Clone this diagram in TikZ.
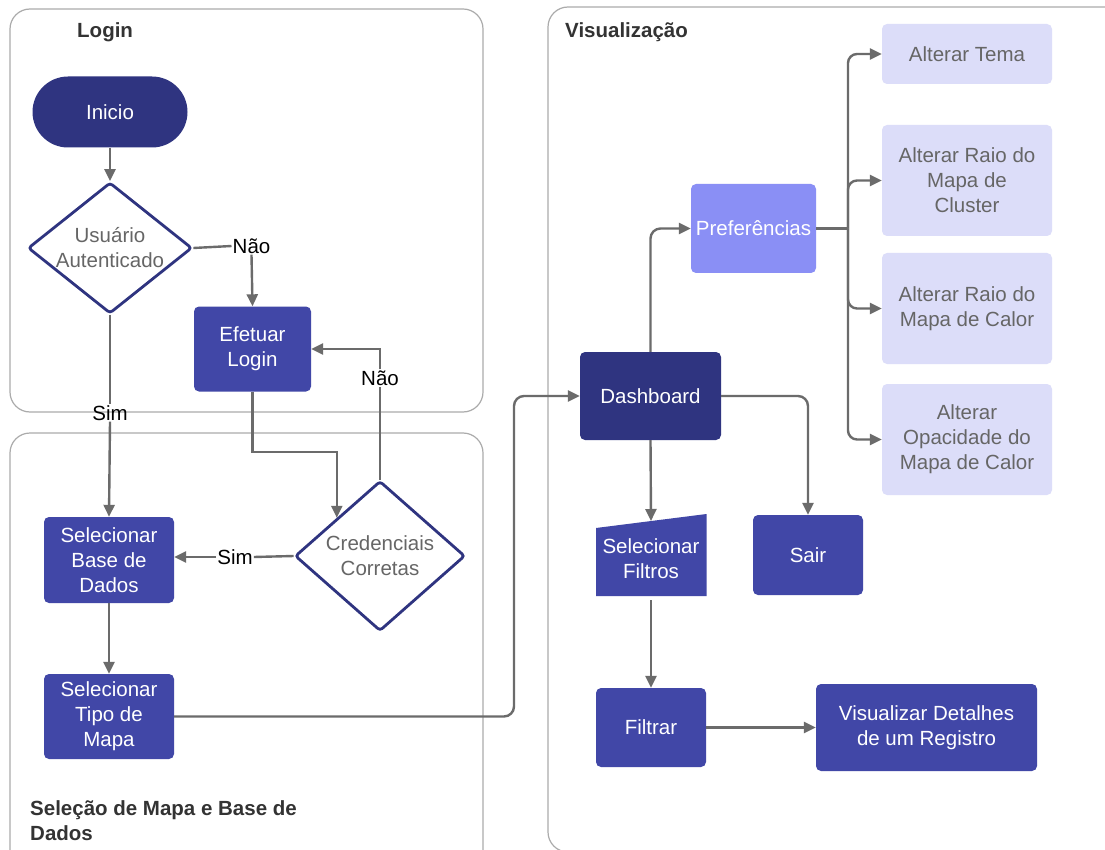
\documentclass[tikz,border=0pt]{standalone}
\usepackage{fontspec}
\setmainfont{Liberation Sans}
\usetikzlibrary{shapes.geometric,arrows.meta,calc}
\definecolor{navy}{HTML}{2F3480}
\definecolor{mblue}{HTML}{4147A7}
\definecolor{peri}{HTML}{8A8FF5}
\definecolor{lav}{HTML}{DCDDF9}
\definecolor{txtgray}{HTML}{666666}
\definecolor{linegray}{HTML}{6B6B6B}
\definecolor{framegray}{HTML}{ABABAB}
\definecolor{ttl}{HTML}{333333}
\newcommand{\txtfont}{\fontsize{20.5}{25}\selectfont}
\begin{document}
\begin{tikzpicture}[x=1pt,y=-1pt,
  frame/.style={draw=framegray, line width=1.2, rounded corners=20},
  ttlstyle/.style={font=\txtfont\bfseries, text=ttl, inner sep=0},
  box/.style={rectangle, rounded corners=5, fill=mblue, text=white, align=center, inner sep=0, font=\txtfont},
  darkbox/.style={box, fill=navy},
  prefbox/.style={box, fill=peri},
  lightbox/.style={box, fill=lav, text=txtgray, minimum width=170},
  dia/.style={diamond, draw=navy, line width=2.8, fill=white, text=txtgray, align=center, inner sep=0, font=\txtfont, rounded corners=3},
  lbl/.style={font=\txtfont, text=black, inner sep=1},
  conn/.style={draw=linegray, line width=2.4},
  arr/.style={conn, -{Triangle[length=12pt,width=11pt]}},
]
\clip (0,0) rectangle (1105,850);
\fill[white] (0,0) rectangle (1105,850);

% containers
\draw[frame] (10,9) rectangle (483,412);
\draw[frame] (10,433) rectangle (483,870);
\draw[frame] (548,7) rectangle (1125,852);

\node[ttlstyle, anchor=base west] (tlogin) at (77,38) {Login};
\node[ttlstyle, anchor=base west] (tvis) at (565,38) {Visualização};
\node[ttlstyle, anchor=north west, align=left] (tsel) at (30,800) {Seleção de Mapa e Base de\\Dados};

% login nodes
\node[darkbox, rounded corners=35.5, minimum width=155, minimum height=71] (inicio) at (110,112) {Inicio};
\node[dia, aspect=1.25, minimum width=164, minimum height=131] (ua) at (110,248) {Usuário\\Autenticado};
\node[box, minimum width=117, minimum height=85] (ef) at (252.5,349) {Efetuar\\Login};
\node[dia, aspect=1.13, minimum width=170, minimum height=150] (cc) at (380,556) {Credenciais\\Corretas};
\node[box, minimum width=130, minimum height=86] (base) at (109,560) {Selecionar\\Base de\\Dados};
\node[box, minimum width=130, minimum height=85] (tipo) at (109,716.5) {Selecionar\\Tipo de\\Mapa};

% labels
\node[lbl] (nao1) at (251.5,246) {Não};
\node[lbl] (nao2) at (380,378) {Não};
\node[lbl] (sim1) at (110,413) {Sim};
\node[lbl] (sim2) at (235,557) {Sim};

% visualization nodes
\node[darkbox, minimum width=141, minimum height=88] (dash) at (650.5,396) {Dashboard};
\node[prefbox, minimum width=125, minimum height=89] (pref) at (753.5,228.5) {Preferências};
\node[lightbox, minimum height=60] (tema) at (967,54) {Alterar Tema};
\node[lightbox, minimum height=111] (cluster) at (967,180.5) {Alterar Raio do\\Mapa de\\Cluster};
\node[lightbox, minimum height=111] (calor) at (967,308.5) {Alterar Raio do\\Mapa de Calor};
\node[lightbox, minimum height=111] (opac) at (967,439.5) {Alterar\\Opacidade do\\Mapa de Calor};
\node[box, minimum width=110, minimum height=80] (sair) at (808,555) {Sair};
\fill[mblue] (596,596) -- (706.5,596) -- (706.5,514) -- (596,528) -- cycle;
\node[align=center, text=white, font=\txtfont, inner sep=0, minimum width=110, minimum height=82] (filtros) at (651,559) {Selecionar\\Filtros};
\node[box, minimum width=110, minimum height=79] (filtrar) at (651,727.5) {Filtrar};
\node[box, minimum width=221, minimum height=87] (det) at (926.5,727.5) {Visualizar Detalhes\\de um Registro};

% coordinates
\coordinate (bend) at (514,716.5);
\coordinate (hub) at (848,228.5);
\coordinate (ftop) at (651,521);

% login connectors
\draw[arr] (inicio) -- (ua);
\draw[conn] (ua.east) -- (nao1.west);
\draw[arr] (nao1.south) -- (ef.north);
\draw[conn] (ua.south) -- (sim1.north);
\draw[arr] (sim1.south) -- (base.north);
\draw[arr] (ef.south) |- (cc.north west |- 0,452) -- (cc.north west);
\draw[conn] (cc.north) -- (nao2.south);
\draw[arr] (nao2.north) |- (ef.east);
\draw[conn] (cc.west) -- (sim2.east);
\draw[arr] (sim2.west) -- (base.east |- sim2.west);
\draw[arr] (base) -- (tipo);
\draw[arr, rounded corners=10] (tipo.east) -- (bend) |- (dash.west);

% visualization connectors
\draw[arr, rounded corners=10] (dash.north) |- (pref.west);
\draw[conn] (pref.east) -- (hub);
\draw[arr, rounded corners=9] (hub) |- (tema.west);
\draw[arr, rounded corners=9] (hub) |- (cluster.west);
\draw[arr, rounded corners=9] (hub) |- (calor.west);
\draw[arr, rounded corners=9] (hub) |- (opac.west);
\draw[arr, rounded corners=10] (dash.east) -| (sair.north);
\draw[arr] (dash.south) -- (ftop);
\draw[arr] (filtros.south) -- (filtrar.north);
\draw[arr] (filtrar.east) -- (det.west);
\end{tikzpicture}
\end{document}
